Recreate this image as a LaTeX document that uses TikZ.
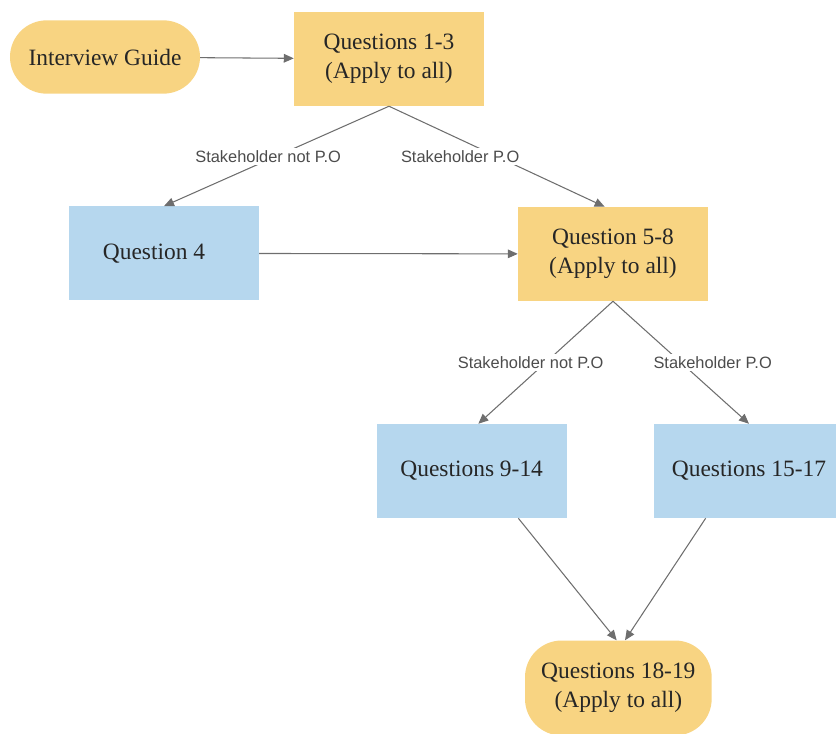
\documentclass[tikz,border=0pt]{standalone}
\usepackage{fontspec}
\setmainfont{Liberation Serif}
\newfontfamily\nodefont{Liberation Serif}
\newfontfamily\labelfont{Liberation Sans}
\usepackage{tikz}
\usetikzlibrary{arrows.meta}
\definecolor{qorange}{RGB}{248,212,130}
\definecolor{qblue}{RGB}{182,215,238}
\definecolor{qline}{RGB}{110,110,110}

\begin{document}
\begin{tikzpicture}
            \tikzstyle{every node}=[font=\nodefont\fontsize{20}{25}\selectfont, text=black!85]
            \tikzstyle{qbox}=[rectangle, minimum width=5.7cm, minimum height=2.82cm, align=center, inner sep=0pt]
            \tikzstyle{qround}=[qbox, rounded corners=1.1cm, fill=qorange]
            \tikzstyle{qedge}=[draw=qline, line width=0.9pt, -{Triangle[length=3mm,width=2.6mm]}]
            \tikzstyle{qlabel}=[font=\labelfont\fontsize{14}{16}\selectfont, text=black!70, fill=white, inner sep=2pt]
            \useasboundingbox (0,0) rectangle (25.08,-21.99);
            \node [qround, minimum height=2.2cm] (guide) at (3.15,-1.71) {Interview Guide};
            \node [qbox, fill=qorange] (q13) at (11.67,-1.77) {Questions 1-3\\(Apply to all)};
            \node [qbox, fill=qblue] (q4) at (4.92,-7.6) {\hspace*{-0.6cm}Question 4};
            \node [qbox, fill=qorange] (q58) at (18.39,-7.62) {Question 5-8\\(Apply to all)};
            \node [qbox, fill=qblue] (q914) at (14.15,-14.13) {Questions 9-14};
            \node [qbox, fill=qblue] (q1517) at (22.47,-14.13) {Questions 15-17};
            \node [qround, minimum width=5.6cm, minimum height=2.85cm] (q1819) at (18.55,-20.64) {Questions 18-19\\(Apply to all)};
            \draw [qedge] (guide) -- (q13);
            \draw [qedge] (q13.south) -- (q4.north) node [qlabel, midway, xshift=-0.25cm] {Stakeholder not P.O};
            \draw [qedge] (q13.south) -- ([xshift=-0.25cm]q58.north) node [qlabel, midway, xshift=-1.1cm] {Stakeholder P.O};
            \draw [qedge] (q4) -- (q58);
            \draw [qedge] (q58.south) -- ([xshift=0.2cm]q914.north) node [qlabel, midway, xshift=-0.45cm] {Stakeholder not P.O};
            \draw [qedge] (q58.south) -- (q1517.north) node [qlabel, midway, xshift=0.95cm] {Stakeholder P.O};
            \draw [qedge] ([xshift=1.4cm]q914.south) -- ([xshift=-0.05cm]q1819.north);
            \draw [qedge] ([xshift=-1.3cm]q1517.south) -- ([xshift=0.2cm]q1819.north);
        \end{tikzpicture}
\end{document}
